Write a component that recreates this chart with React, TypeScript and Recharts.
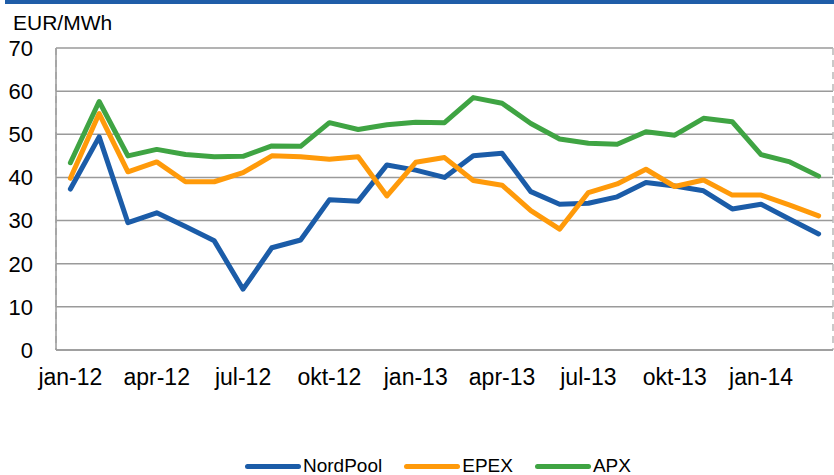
import React from 'react';
import { LineChart, Line, XAxis, YAxis, CartesianGrid } from 'recharts';

const months = [
  'jan-12','feb-12','mar-12','apr-12','maj-12','jun-12','jul-12','aug-12','sep-12','okt-12','nov-12','dec-12',
  'jan-13','feb-13','mar-13','apr-13','maj-13','jun-13','jul-13','aug-13','sep-13','okt-13','nov-13','dec-13',
  'jan-14','feb-14','mar-14',
];
const nordpool = [37.3,49.4,29.5,31.8,28.6,25.3,14.1,23.7,25.5,34.8,34.5,42.9,41.7,40.0,45.0,45.6,36.7,33.8,34.0,35.5,38.8,38.0,36.9,32.7,33.8,30.3,26.9];
const epex = [39.8,54.8,41.3,43.6,39.0,39.0,41.1,45.0,44.8,44.2,44.8,35.7,43.5,44.6,39.3,38.2,32.3,28.0,36.5,38.5,41.9,37.9,39.4,35.9,35.9,33.6,31.1];
const apx = [43.4,57.6,45.0,46.5,45.3,44.8,44.9,47.3,47.2,52.7,51.1,52.2,52.8,52.7,58.5,57.2,52.5,48.9,47.9,47.7,50.6,49.8,53.7,52.9,45.3,43.6,40.3];
const yTicks = [0, 10, 20, 30, 40, 50, 60, 70];
const tickStep = 3;
const unit = 'EUR/MWh';

const series = [
  { key: 'NordPool', values: nordpool, color: '#1B5CA8' },
  { key: 'EPEX', values: epex, color: '#FF9A0A' },
  { key: 'APX', values: apx, color: '#3FA443' },
];

const data = months.map((m, i) => {
  const row: Record<string, number | string> = { x: i + 0.5, month: m };
  series.forEach((s) => { row[s.key] = s.values[i]; });
  return row;
});

const boundaryTicks: number[] = [];
for (let v = 0; v <= months.length; v += tickStep) boundaryTicks.push(v);
const labelTicks: number[] = [];
for (let v = 0; v < months.length; v += tickStep) labelTicks.push(v + 0.5);

const FONT = '"Liberation Sans", Arial, sans-serif';
const AXIS_GRAY = '#9a9a9a';

export default function App() {
  return (
    <div style={{ position: 'absolute', left: 0, top: 0, width: 834, height: 475, background: '#fff', fontFamily: FONT }}>
      <div style={{ position: 'absolute', left: 5, top: 0, width: 829, height: 4, background: '#1F5DA8' }} />
      <div style={{ position: 'absolute', left: 13, top: 12, fontSize: 21, lineHeight: '21px', color: '#000' }}>{unit}</div>
      <LineChart width={834} height={475} data={data} margin={{ top: 48, right: 1, left: 0, bottom: 0 }}>
        <CartesianGrid xAxisId="grid" vertical={false} stroke={AXIS_GRAY} strokeWidth={1.5} />
        <CartesianGrid xAxisId="grid" horizontal={false} stroke="#b8b8b8" strokeWidth={1.5} strokeDasharray="7 5" />
        <XAxis
          xAxisId="grid"
          type="number"
          dataKey="x"
          domain={[0, months.length]}
          ticks={boundaryTicks}
          tick={false}
          tickSize={5}
          tickLine={{ stroke: AXIS_GRAY, strokeWidth: 1.5 }}
          axisLine={{ stroke: AXIS_GRAY, strokeWidth: 1.5 }}
          height={1}
          allowDataOverflow
        />
        <XAxis
          xAxisId="lbl"
          type="number"
          dataKey="x"
          domain={[0, months.length]}
          ticks={labelTicks}
          tickFormatter={(v: number) => months[Math.floor(v)]}
          tick={{ fontSize: 23, fill: '#000', fontFamily: FONT }}
          tickLine={false}
          axisLine={false}
          tickSize={0}
          tickMargin={18}
          height={124}
          interval={0}
          allowDataOverflow
        />
        <YAxis
          type="number"
          domain={[0, 70]}
          ticks={yTicks}
          width={56}
          tick={{ fontSize: 22, fill: '#000', fontFamily: FONT }}
          tickLine={false}
          tickSize={0}
          tickMargin={23}
          axisLine={{ stroke: AXIS_GRAY, strokeWidth: 1.5 }}
          interval={0}
        />
        {series.map((s) => (
          <Line
            key={s.key}
            xAxisId="lbl"
            type="linear"
            dataKey={s.key}
            stroke={s.color}
            strokeWidth={5}
            strokeLinejoin="round"
            strokeLinecap="round"
            dot={false}
            activeDot={false}
            isAnimationActive={false}
          />
        ))}
      </LineChart>
      <div style={{ position: 'absolute', left: 245, top: 455, display: 'flex', alignItems: 'center', gap: 22 }}>
        {series.map((s) => (
          <div key={s.key} style={{ display: 'flex', alignItems: 'center' }}>
            <div style={{ width: 56, height: 5, borderRadius: 3, background: s.color, marginRight: 2 }} />
            <span style={{ fontSize: 19, lineHeight: '22px', color: '#000' }}>{s.key}</span>
          </div>
        ))}
      </div>
    </div>
  );
}
